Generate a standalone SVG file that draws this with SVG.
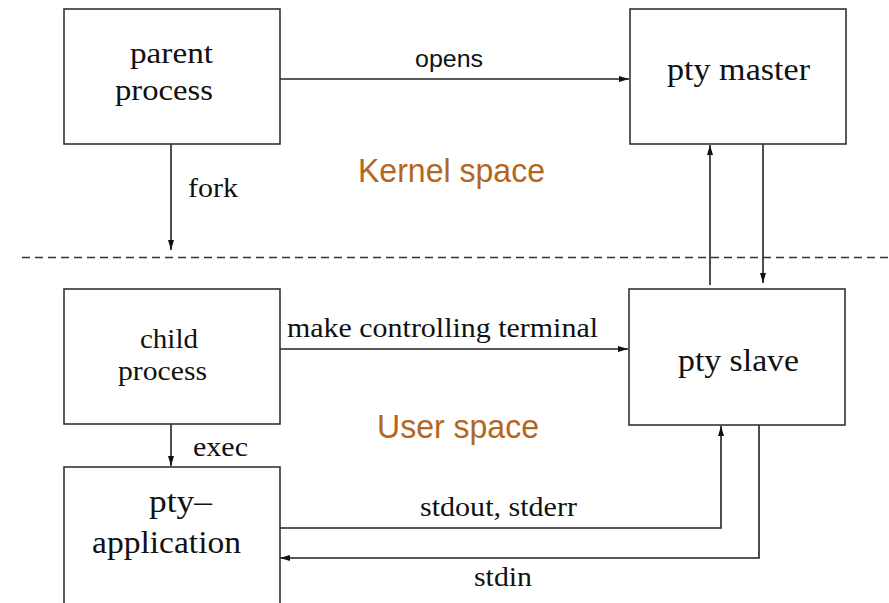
<svg xmlns="http://www.w3.org/2000/svg" width="889" height="603" viewBox="0 0 889 603">
<style>
.box{fill:#fff;stroke:#333;stroke-width:1.6}
.t{font-family:"Liberation Serif","Times New Roman",serif;fill:#111}
.lbl{font-family:"Liberation Serif","Times New Roman",serif;fill:#111;font-size:27px}
.sp{font-family:"Liberation Sans",Arial,sans-serif;fill:#B4661E;font-size:33px}
.c{fill:none;stroke:#222;stroke-width:1.6}
</style>
<defs>
<marker id="ah" viewBox="0 0 10 7" refX="10" refY="3.5" markerWidth="10" markerHeight="7" markerUnits="userSpaceOnUse" orient="auto">
<path d="M0,0.5 L10,3.5 L0,6.5 Z" fill="#111"/>
</marker>
</defs>
<rect width="889" height="603" fill="#fff"/>
<line x1="22" y1="257.5" x2="889" y2="257.5" stroke="#333" stroke-width="1.5" stroke-dasharray="8,5"/>
<g id="connectors">
<line class="c" x1="280" y1="79" x2="629" y2="79" marker-end="url(#ah)"/>
<line class="c" x1="171" y1="144" x2="171" y2="250" marker-end="url(#ah)"/>
<line class="c" x1="710" y1="285" x2="710" y2="145" marker-end="url(#ah)"/>
<line class="c" x1="763" y1="144" x2="763" y2="283" marker-end="url(#ah)"/>
<line class="c" x1="279" y1="349" x2="628" y2="349" marker-end="url(#ah)"/>
<line class="c" x1="171" y1="424" x2="171" y2="466" marker-end="url(#ah)"/>
<polyline class="c" points="279,528 721,528 721,426" marker-end="url(#ah)"/>
<polyline class="c" points="759,425 759,558 280,558" marker-end="url(#ah)"/>
<text class="lbl" x="415" y="67" textLength="68" lengthAdjust="spacingAndGlyphs" style="font-family:'Liberation Sans',Arial,sans-serif;font-size:24px">opens</text>
<text class="lbl" x="188" y="197" textLength="50" lengthAdjust="spacingAndGlyphs">fork</text>
<text class="lbl" x="287" y="337" textLength="311" lengthAdjust="spacingAndGlyphs">make controlling terminal</text>
<text class="lbl" x="193" y="456" textLength="55" lengthAdjust="spacingAndGlyphs">exec</text>
<text class="lbl" x="420" y="516" textLength="157" lengthAdjust="spacingAndGlyphs">stdout, stderr</text>
<text class="lbl" x="474" y="586" textLength="58" lengthAdjust="spacingAndGlyphs">stdin</text>
</g>
<g id="parent">
<rect class="box" x="64" y="9" width="216" height="135"/>
<text class="t" x="130" y="63" font-size="29" textLength="83" lengthAdjust="spacingAndGlyphs">parent</text>
<text class="t" x="115" y="100" font-size="29" textLength="98" lengthAdjust="spacingAndGlyphs">process</text>
</g>
<g id="master">
<rect class="box" x="630" y="9" width="216" height="135"/>
<text class="t" x="667" y="80" font-size="32" textLength="143" lengthAdjust="spacingAndGlyphs">pty master</text>
</g>
<g id="child">
<rect class="box" x="64" y="289" width="216" height="135"/>
<text class="t" x="140" y="348" font-size="28" textLength="58" lengthAdjust="spacingAndGlyphs">child</text>
<text class="t" x="118" y="380" font-size="28" textLength="89" lengthAdjust="spacingAndGlyphs">process</text>
</g>
<g id="app">
<rect class="box" x="64" y="467" width="216" height="150"/>
<text class="t" x="149" y="512" font-size="31" textLength="63" lengthAdjust="spacingAndGlyphs">pty–</text>
<text class="t" x="92" y="553" font-size="31" textLength="149" lengthAdjust="spacingAndGlyphs">application</text>
</g>
<g id="slave">
<rect class="box" x="629" y="289" width="216" height="136"/>
<text class="t" x="678" y="371" font-size="31" textLength="121" lengthAdjust="spacingAndGlyphs">pty slave</text>
</g>
<text class="sp" x="358" y="182" textLength="187" lengthAdjust="spacingAndGlyphs">Kernel space</text>
<text class="sp" x="377" y="438" textLength="162" lengthAdjust="spacingAndGlyphs">User space</text>
</svg>
